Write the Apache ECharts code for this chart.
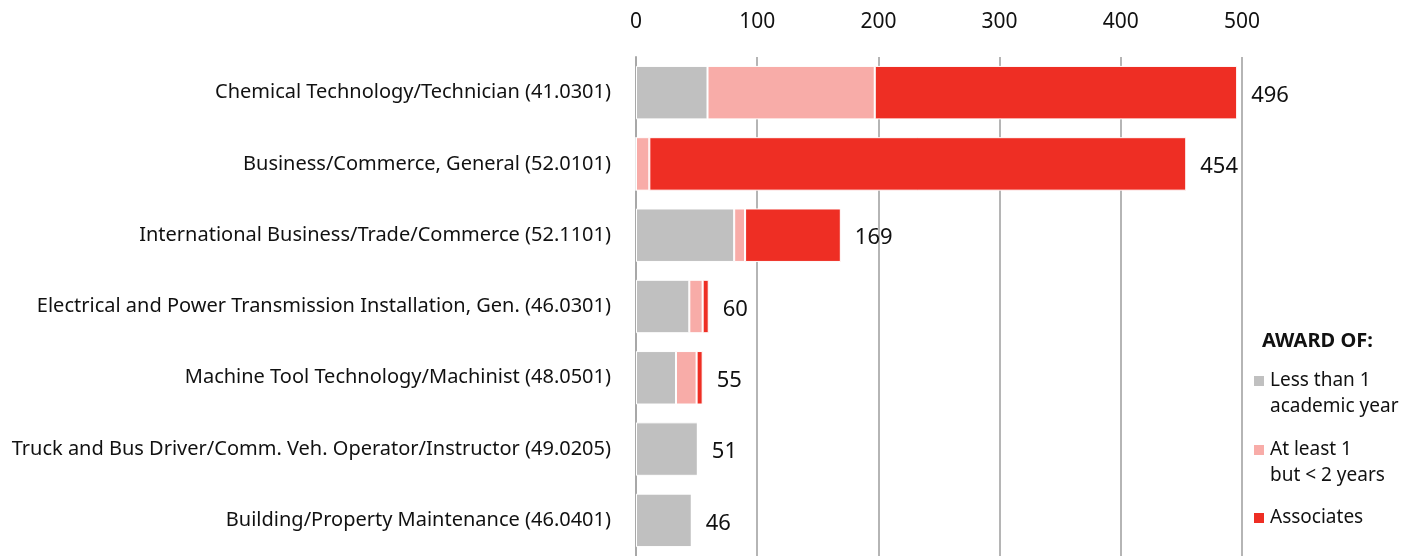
<!DOCTYPE html>
<html>
<head>
<meta charset="utf-8">
<script src="https://cdn.jsdelivr.net/npm/echarts@6/dist/echarts.min.js"></script>
<style>
    html, body { margin: 0; padding: 0; background: #fff; }
    #chart { width: 1421px; height: 556px; }
</style>
</head>
<body>
<div id="chart"></div>
<script>
// programmes, top to bottom
var programs = [
    'Chemical Technology/Technician (41.0301)',
    'Business/Commerce, General (52.0101)',
    'International Business/Trade/Commerce (52.1101)',
    'Electrical and Power Transmission Installation, Gen. (46.0301)',
    'Machine Tool Technology/Machinist (48.0501)',
    'Truck and Bus Driver/Comm. Veh. Operator/Instructor (49.0205)',
    'Building/Property Maintenance (46.0401)'
];
var lessThanOne = [59, 0, 81, 44, 33, 51, 46];
var oneToTwo = [138, 11, 9, 11, 17, 0, 0];
var associates = [299, 443, 79, 5, 5, 0, 0];
var totals = [496, 454, 169, 60, 55, 51, 46];
var xTicks = [0, 100, 200, 300, 400, 500];

var font = '"Noto Sans", sans-serif';
var names = ['Less than 1\nacademic year', 'At least 1\nbut < 2 years', 'Associates'];
var colors = ['#c0c0c0', '#f8aca8', '#ee2e24'];

function barSeries(name, data, color) {
    return {
        name: name,
        type: 'bar',
        stack: 'award',
        barCategoryGap: '25%',
        data: data,
        itemStyle: { color: color, borderColor: '#fff', borderWidth: 1 },
        z: 2
    };
}

// one legend per entry; a blank line on top of two-line names keeps
// the square level with the first line of text
function legendFor(i, top) {
    return {
        orient: 'vertical',
        left: 1252,
        top: top,
        padding: 0,
        itemWidth: 12,
        itemHeight: 12,
        icon: 'rect',
        data: [names[i]],
        formatter: function (name) {
            return name.indexOf('\n') >= 0 ? ' \n' + name : name;
        },
        textStyle: { fontFamily: font, fontSize: 19, color: '#111', lineHeight: 26 }
    };
}

var chart = echarts.init(document.getElementById('chart'));
chart.setOption({
    animation: false,
    color: colors,
    grid: { left: 636, right: 179, top: 57, height: 504, containLabel: false },
    legend: [legendFor(0, 342), legendFor(1, 411), legendFor(2, 505)],
    graphic: [{
        type: 'text',
        left: 1262,
        top: 331,
        style: { text: 'AWARD OF:', font: 'bold 20px "Noto Sans", sans-serif', fill: '#111' }
    }],
    xAxis: {
        type: 'value',
        position: 'top',
        min: 0,
        max: 500,
        interval: 100,
        axisLine: { show: false },
        axisTick: { show: false },
        axisLabel: {
            margin: 24,
            fontFamily: font,
            fontSize: 21,
            color: '#111',
            formatter: function (v) { return xTicks.indexOf(v) >= 0 ? String(v) : ''; }
        },
        splitLine: { show: true, lineStyle: { color: '#b5b5b5', width: 2 } }
    },
    yAxis: {
        type: 'category',
        inverse: true,
        data: programs,
        axisLine: { show: true, lineStyle: { color: '#a8a8a8', width: 2 } },
        axisTick: { show: false },
        axisLabel: { margin: 25, fontFamily: font, fontSize: 20, color: '#111' }
    },
    series: [
        barSeries(names[0], lessThanOne, colors[0]),
        barSeries(names[1], oneToTwo, colors[1]),
        barSeries(names[2], associates, colors[2]),
        {
            name: 'total',
            type: 'bar',
            stack: 'award',
            data: totals.map(function () { return 0; }),
            itemStyle: { color: 'transparent' },
            label: {
                show: true,
                position: 'right',
                distance: 14,
                offset: [0, 3],
                fontFamily: font,
                fontSize: 22,
                color: '#111',
                formatter: function (p) { return totals[p.dataIndex]; }
            },
            z: 3
        }
    ]
});
</script>
</body>
</html>
